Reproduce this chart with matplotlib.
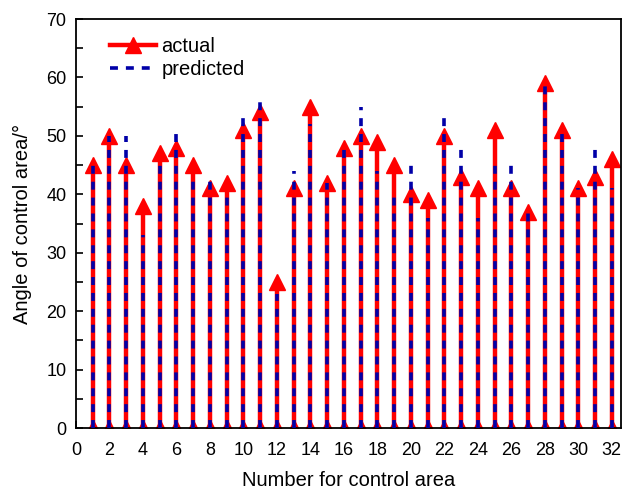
import numpy as np
import matplotlib
matplotlib.use("Agg")
import matplotlib.pyplot as plt

plt.rcParams['font.family'] = ['Liberation Sans', 'DejaVu Sans']

area = list(range(1, 33))
actual = [45, 50, 45, 38, 47, 48, 45, 41, 42, 51, 54, 25, 41, 55, 42, 48,
          50, 49, 45, 40, 39, 50, 43, 41, 51, 41, 37, 59, 51, 41, 43, 46]
predicted = [45, 50, 50, 33, 45, 51, 43, 43, 40, 54, 57, 23, 44, 52, 42, 48,
             55, 44, 40, 45, 36, 53, 48, 36, 46, 46, 37, 59, 51, 41, 48, 41]
xticks = list(range(0, 33, 2))
yticks = list(range(0, 71, 10))


def stems(xs, ys):
    px, py = [], []
    for x, y in zip(xs, ys):
        px += [x, x, np.nan]
        py += [0, y, np.nan]
    return px, py


fig = plt.figure(figsize=(6.25, 4.9), dpi=100)
ax = fig.add_axes([0.1216, 0.1265, 0.8720, 0.8347])

ax_x, ax_y = stems(area, actual)
ax.plot(ax_x, ax_y, color='#ff0000', lw=3.2, marker='^', ms=11.5,
        markeredgecolor='#ff0000', label='actual', zorder=2)
px, py = stems(area, predicted)
ax.plot(px, py, color='#0000a8', lw=2.6, ls=(0, (2.2, 2.2)),
        label='predicted', zorder=3)

ax.set_xlim(0, 32.55)
ax.set_ylim(0, 70)
ax.set_xticks(xticks)
ax.set_yticks(yticks)
ax.set_yticks(range(5, 70, 10), minor=True)
ax.tick_params(axis='both', which='both', direction='in', labelsize=13,
               length=5, width=1.2, top=False, right=False)
ax.tick_params(axis='x', pad=10)
ax.tick_params(axis='y', pad=7)
for s in ax.spines.values():
    s.set_linewidth(1.3)

ax.set_xlabel('Number for control area', fontsize=14.5, labelpad=9)
ax.set_ylabel('Angle of control area/°', fontsize=14.5, labelpad=10)

leg = ax.legend(loc='upper left', frameon=False, fontsize=14.5, numpoints=1,
                handlelength=2.3, handletextpad=0.25, labelspacing=0.2,
                borderaxespad=0.2, bbox_to_anchor=(0.04, 0.985))

fig.savefig('out.png', dpi=100)
